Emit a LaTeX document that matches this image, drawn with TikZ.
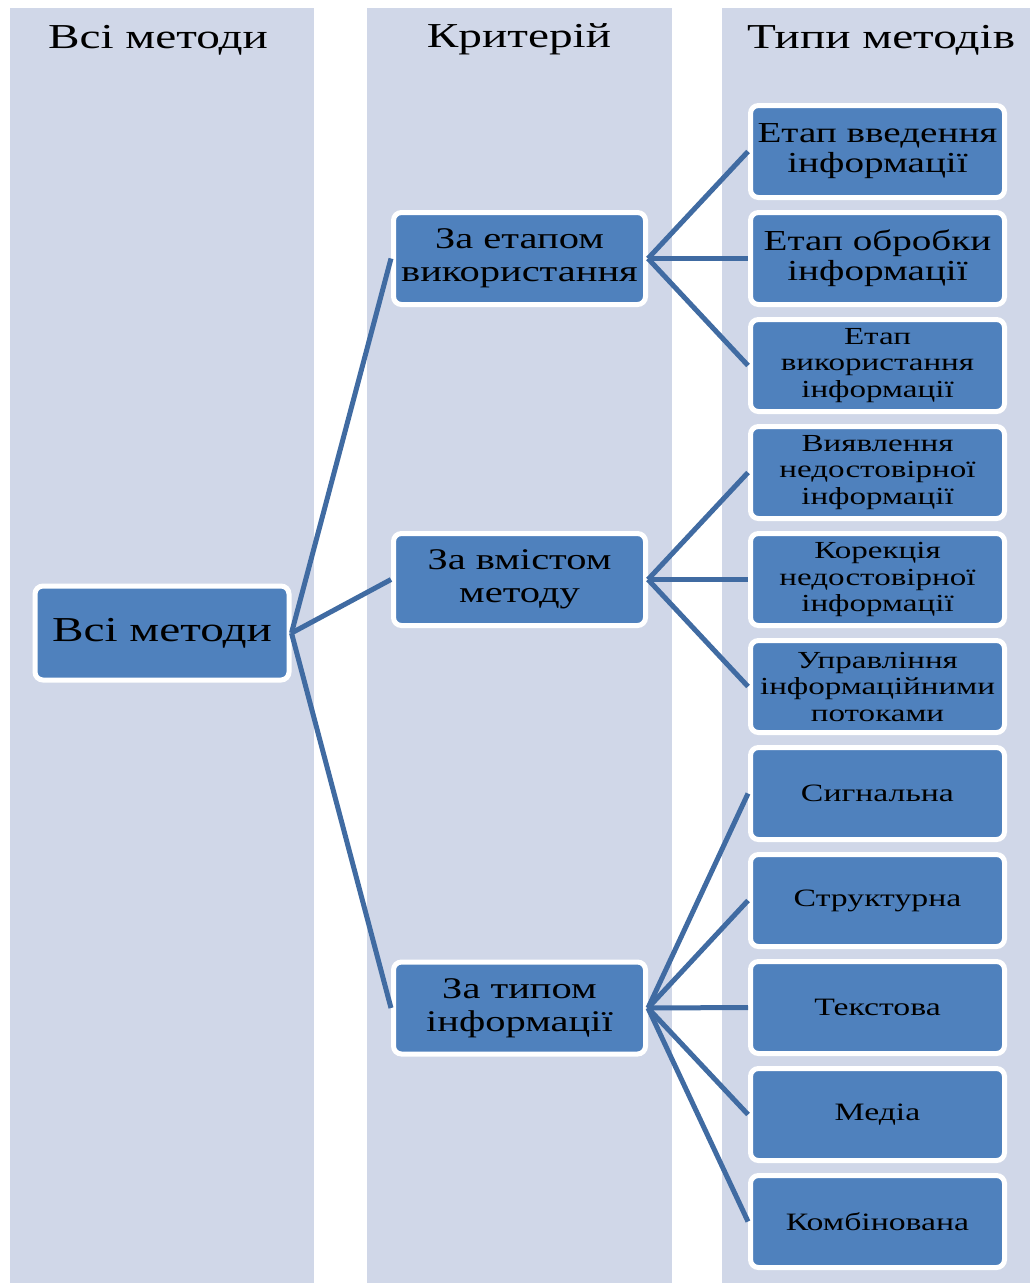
\documentclass[tikz,border=0pt]{standalone}
\usepackage{fontspec}
\setmainfont{Liberation Serif}[FakeStretch=1.35]
\definecolor{bandfill}{RGB}{208,215,232}
\definecolor{boxblue}{RGB}{79,129,189}
\definecolor{linkblue}{RGB}{64,107,162}
\begin{document}
\begin{tikzpicture}[x=1pt,y=-1pt,
  column/.style={fill=bandfill, draw=none},
  heading/.style={anchor=base, inner sep=0pt, font=\fontsize{35}{40}\selectfont},
  item/.style={rectangle, rounded corners=8pt, fill=boxblue, draw=white,
    line width=5pt, inner sep=0pt, align=center, text=black},
  rootbox/.style={item, minimum width=254pt, minimum height=94pt,
    font=\fontsize{35}{40}\selectfont},
  critbox/.style={item, minimum width=252pt, minimum height=92pt,
    font=\fontsize{30}{33}\selectfont},
  typebox/.style={item, minimum width=254pt, minimum height=92pt},
  two/.style={font=\fontsize{29}{30}\selectfont},
  three/.style={font=\fontsize{24.5}{26.5}\selectfont},
  one/.style={font=\fontsize{25}{28}\selectfont},
  link/.style={draw=linkblue, line width=5pt}
]
\useasboundingbox (0,0) rectangle (1030,1283);

% background columns
\fill[column] (10,8) rectangle (314,1283);
\fill[column] (367,8) rectangle (672,1283);
\fill[column] (722,8) rectangle (1030,1283);

% column headings
\node[heading] (h1) at (158,48) {Всі методи};
\node[heading] (h2) at (519,47) {Критерій};
\node[heading] (h3) at (881,48) {Типи методів};

% root
\node[rootbox] (root) at (162,633) {Всі методи};

% criteria
\node[critbox] (c1) at (519.5,258.5) {За етапом\\використання};
\node[critbox] (c2) at (519.5,579.5) {За вмістом\\методу};
\node[critbox] (c3) at (519.5,1008) {За типом\\інформації};

% method types
\node[typebox,two]   (t1)  at (877.5,151.5)  {Етап введення\\інформації};
\node[typebox,two]   (t2)  at (877.5,258.5)  {Етап обробки\\інформації};
\node[typebox,three] (t3)  at (877.5,365.5)  {Етап\\використання\\інформації};
\node[typebox,three] (t4)  at (877.5,472.5)  {Виявлення\\недостовірної\\інформації};
\node[typebox,three] (t5)  at (877.5,579.5)  {Корекція\\недостовірної\\інформації};
\node[typebox,three] (t6)  at (877.5,686.5)  {Управління\\інформаційними\\потоками};
\node[typebox,one]   (t7)  at (877.5,793.5)  {Сигнальна};
\node[typebox,one]   (t8)  at (877.5,900.5)  {Структурна};
\node[typebox,one]   (t9)  at (877.5,1007.5) {Текстова};
\node[typebox,one]   (t10) at (877.5,1114.5) {Медіа};
\node[typebox,one]   (t11) at (877.5,1221.5) {Комбінована};

% connectors
\draw[link] (root.east) -- (c1.west);
\draw[link] (root.east) -- (c2.west);
\draw[link] (root.east) -- (c3.west);
\foreach \t in {t1,t2,t3} \draw[link] (c1.east) -- (\t.west);
\foreach \t in {t4,t5,t6} \draw[link] (c2.east) -- (\t.west);
\foreach \t in {t7,t8,t9,t10,t11} \draw[link] (c3.east) -- (\t.west);
\end{tikzpicture}
\end{document}
